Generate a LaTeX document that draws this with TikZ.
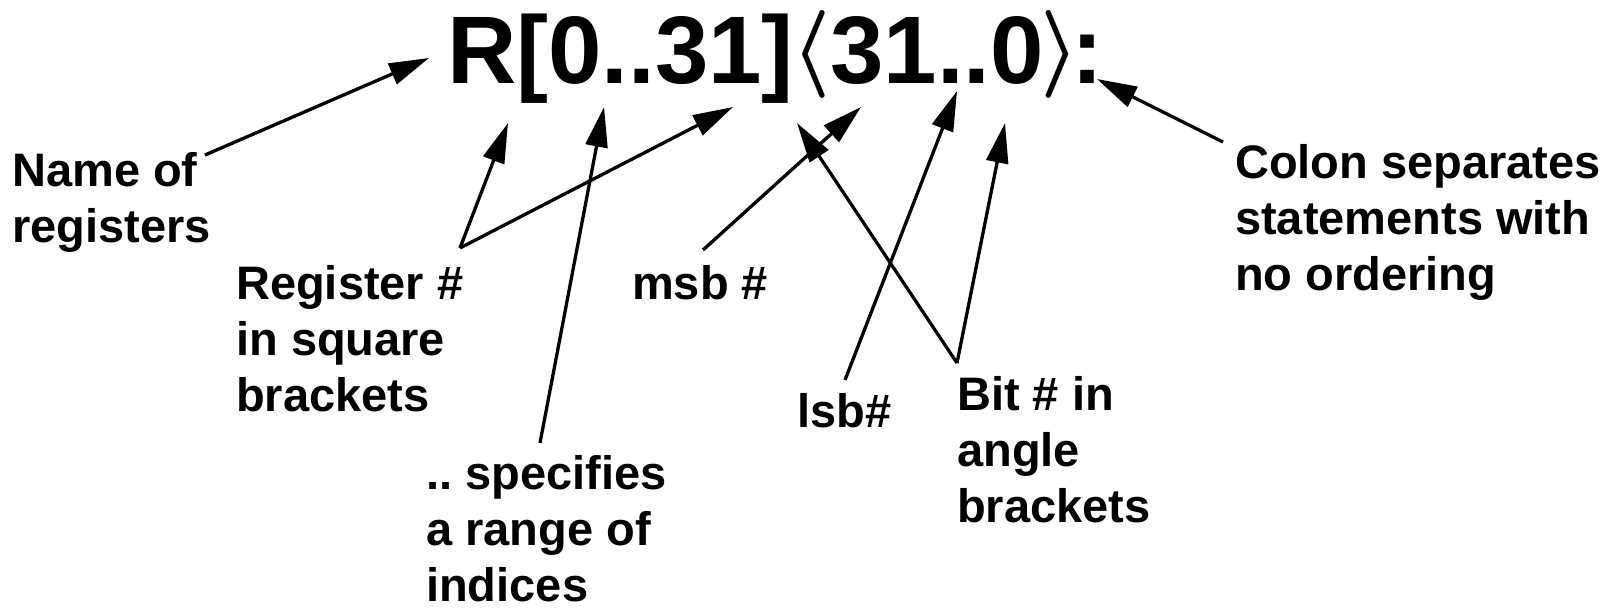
\RequirePackage{fix-cm}
\documentclass[tikz,border=0pt]{standalone}
\usepackage{fontspec}
\setmainfont{Liberation Sans}
\usetikzlibrary{arrows.meta}
\begin{document}
\frenchspacing
\begin{tikzpicture}[x=1pt,y=-1pt,
  lbl/.style={anchor=base west, inner sep=0pt, align=left, font=\fontsize{47}{56}\selectfont\bfseries},
  arr/.style={line width=3.3pt, -{Triangle[length=40pt,width=22pt]}},
  ln/.style={line width=3.3pt}]
\useasboundingbox (0,0) rectangle (1620,608);
% title
\node[anchor=base west, inner sep=0pt, font=\fontsize{96}{110}\selectfont\bfseries] (title) at (447,83)
  {R[0..31]\kern-2pt\raisebox{7pt}{\fontsize{88}{90}\selectfont\boldmath$\langle$}\kern-1pt31..0\kern-3pt\raisebox{7pt}{\fontsize{88}{90}\selectfont\boldmath$\rangle$}\kern-9pt:};
% labels (anchor = baseline of the last line)
\node[lbl] (name) at (12,242) {Name of\\registers};
\node[lbl] (reg) at (236,411) {Register \#\\in square\\brackets};
\node[lbl] (spec) at (426,601) {.. specifies\\a range of\\indices};
\node[lbl] (msb) at (632,299) {msb \#};
\node[lbl] (lsb) at (797,427) {lsb\#};
\node[lbl] (bit) at (957,522) {Bit \# in\\angle\\brackets};
\node[lbl] (colon) at (1235,290) {Colon separates\\statements with\\no ordering};
% connector ends
\coordinate (nameT) at (205,155);  \coordinate (nameH) at (429,58);
\coordinate (regT) at (460,248);   \coordinate (regH1) at (508,123); \coordinate (regH2) at (733,107);
\coordinate (specT) at (540,443);  \coordinate (specH) at (604,107);
\coordinate (msbT) at (703,250);   \coordinate (msbH) at (861,107);
\coordinate (lsbT) at (845,380);   \coordinate (lsbH) at (957,91);
\coordinate (bitT) at (957,363);   \coordinate (bitH1) at (797,123); \coordinate (bitH2) at (1005,123);
\coordinate (colT) at (1223,142);  \coordinate (colH) at (1097,79);
% arrows
\draw[arr] (nameT) -- (nameH);
\draw[arr] (regT) -- (regH1);
\draw[arr] (regT) -- (regH2);
\draw[arr] (specT) -- (specH);
\draw[arr] (msbT) -- (msbH);
\draw[arr] (lsbT) -- (lsbH);
\draw[arr] (bitT) -- (bitH1);
\draw[arr] (bitT) -- (bitH2);
\draw[arr] (colT) -- (colH);
\end{tikzpicture}
\end{document}
